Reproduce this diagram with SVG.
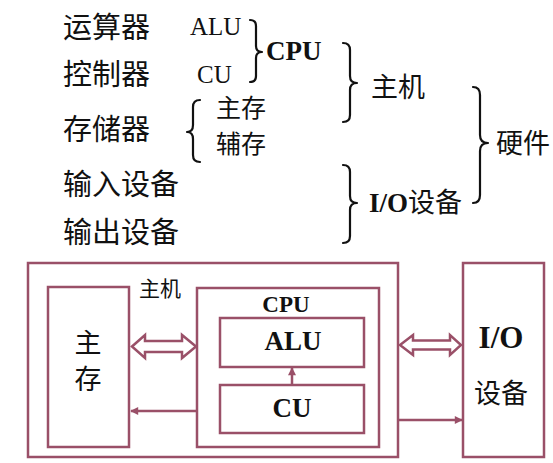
<svg xmlns="http://www.w3.org/2000/svg" width="553" height="463" viewBox="0 0 553 463">
<defs>
<style>
.cn{font-family:"Noto Sans CJK SC","Noto Sans",sans-serif;fill:#111;}
.lt{font-family:"Liberation Serif","Times New Roman",serif;fill:#111;}
.b{font-weight:bold;}
.brace{fill:none;stroke:#111;stroke-width:2.2;stroke-linecap:round;stroke-linejoin:round;}
.box{fill:#fff;stroke:#9a5068;stroke-width:2.5;}
.ln{fill:none;stroke:#9a5068;stroke-width:2.5;}
.harrow{fill:#fff;stroke:#9a5068;stroke-width:2.5;stroke-linejoin:miter;}
</style>
<marker id="ah" viewBox="0 0 10 10" refX="9" refY="5" markerWidth="9" markerHeight="8" markerUnits="userSpaceOnUse" orient="auto">
<path d="M0,0 L10,5 L0,10 Z" fill="#9a5068"/>
</marker>
</defs>
<rect width="553" height="463" fill="#fff"/>

<!-- Top classification -->
<g id="top-text">
<text class="cn" x="63" y="25" font-size="29" dominant-baseline="central">运算器</text>
<text class="cn" x="63" y="72" font-size="29" dominant-baseline="central">控制器</text>
<text class="cn" x="63" y="127" font-size="29" dominant-baseline="central">存储器</text>
<text class="cn" x="63" y="182" font-size="29" dominant-baseline="central">输入设备</text>
<text class="cn" x="63" y="230" font-size="29" dominant-baseline="central">输出设备</text>
<text class="lt" x="190" y="35" font-size="25">ALU</text>
<text class="lt" x="197" y="83" font-size="25">CU</text>
<text class="lt b" x="266" y="60" font-size="27">CPU</text>
<text class="cn" x="216" y="106" font-size="25" dominant-baseline="central">主存</text>
<text class="cn" x="216" y="142" font-size="25" dominant-baseline="central">辅存</text>
<text class="cn" x="371" y="85" font-size="27" dominant-baseline="central">主机</text>
<text class="cn" x="496" y="141" font-size="27" dominant-baseline="central">硬件</text>
<text x="369" y="212"><tspan class="lt b" font-size="27">I/O</tspan><tspan class="cn" font-size="27">设备</tspan></text>
</g>

<g id="braces">
<path class="brace" d="M250,20 Q256,20 256,26 L256,46 Q256,52 262,52 Q256,52 256,58 L256,76 Q256,82 250,82"/>
<path class="brace" d="M343,43 Q350,43 350,50 L350,76 Q350,83 357,83 Q350,83 350,90 L350,115 Q350,122 343,122"/>
<path class="brace" d="M473,87 Q480,87 480,95 L480,135 Q480,143 488,143 Q480,143 480,151 L480,195 Q480,203 473,203"/>
<path class="brace" d="M343,165 Q350,165 350,172 L350,196 Q350,203 357,203 Q350,203 350,210 L350,236 Q350,243 343,243"/>
<path class="brace" d="M200,100 Q193,100 193,107 L193,125 Q193,132 187,132 Q193,132 193,139 L193,155 Q193,162 200,162"/>
</g>

<!-- Bottom block diagram -->
<g id="host">
<rect class="box" x="28" y="263" width="370" height="194"/>
<text class="cn" x="160" y="287" font-size="21" text-anchor="middle" dominant-baseline="central">主机</text>
</g>
<g id="mainmem">
<rect class="box" x="48" y="287" width="81" height="160"/>
<text class="cn" x="88" y="341" font-size="27" text-anchor="middle" dominant-baseline="central">主</text>
<text class="cn" x="88" y="377" font-size="27" text-anchor="middle" dominant-baseline="central">存</text>
</g>
<g id="cpu">
<rect class="box" x="197" y="288" width="182" height="159"/>
<text class="lt b" x="286" y="312" font-size="23" text-anchor="middle">CPU</text>
</g>
<g id="alu">
<rect class="box" x="220" y="318" width="144" height="49"/>
<text class="lt b" x="293" y="350" font-size="27" text-anchor="middle">ALU</text>
</g>
<g id="cu">
<rect class="box" x="220" y="385" width="144" height="48"/>
<text class="lt b" x="292" y="417" font-size="27" text-anchor="middle">CU</text>
</g>
<g id="io">
<rect class="box" x="463" y="263" width="81" height="194"/>
<text class="lt b" x="501" y="348" font-size="31" text-anchor="middle">I/O</text>
<text class="cn" x="501" y="391" font-size="27" text-anchor="middle" dominant-baseline="central">设备</text>
</g>

<g id="connectors">
<polygon class="harrow" points="132,346.5 145,335 145,341 182,341 182,335 196,346.5 182,358 182,352 145,352 145,358"/>
<polygon class="harrow" points="400,345 413,335 413,340.5 450,340.5 450,335 461,345 450,355 450,349.5 413,349.5 413,355"/>
<line class="ln" x1="197" y1="411" x2="131" y2="411" marker-end="url(#ah)"/>
<line class="ln" x1="292" y1="385" x2="292" y2="368" marker-end="url(#ah)"/>
<line class="ln" x1="398" y1="420" x2="462" y2="420" marker-end="url(#ah)"/>
</g>
</svg>
